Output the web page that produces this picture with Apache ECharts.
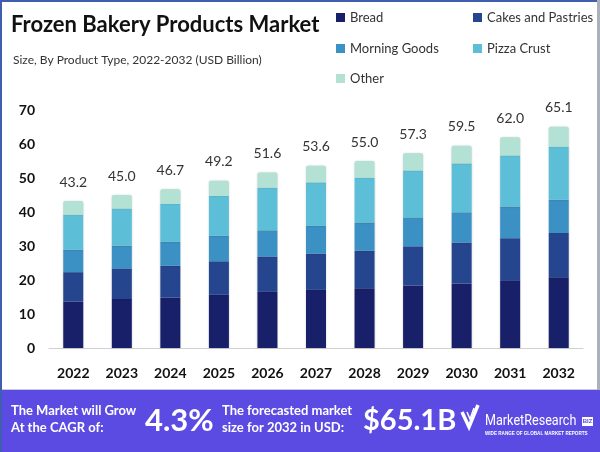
<!DOCTYPE html>
<html>
<head>
<meta charset="utf-8">
<script src="https://cdn.jsdelivr.net/npm/echarts@6/dist/echarts.min.js"></script>
<style>
html,body{margin:0;padding:0;background:#fff;}
#c{width:600px;height:452px;}
</style>
</head>
<body>
<div id="c"></div>
<script>
var years = ['2022','2023','2024','2025','2026','2027','2028','2029','2030','2031','2032'];
var bread = [13.7,14.4,14.8,15.7,16.5,17.1,17.6,18.4,19.0,19.9,20.8];
var cakes = [8.6,9.0,9.4,9.8,10.4,10.6,11.0,11.5,12.0,12.4,13.0];
var morning = [6.6,6.7,7.0,7.5,7.7,8.2,8.3,8.5,8.9,9.3,9.8];
var pizza = [10.3,10.9,11.2,11.7,12.5,12.8,13.2,13.8,14.4,15.0,15.6];
var other = [4.0,4.0,4.3,4.5,4.5,4.9,4.9,5.1,5.2,5.4,5.9];
var totals = [43.2,45.0,46.7,49.2,51.6,53.6,55.0,57.3,59.5,62.0,65.1];
var yTicks = [0,10,20,30,40,50,60,70];
var seriesNames = ['Bread','Cakes and Pastries','Morning Goods','Pizza Crust','Other'];
var colors = ['#18206a','#26458f','#3b90c4','#5dbfd7','#b3e1d3'];

var chart = echarts.init(document.getElementById('c'));
var font = 'Lato, "Noto Sans", sans-serif';
var dataSets = [bread, cakes, morning, pizza, other];
var legendPos = [[336,11],[473,11],[336,42],[473,42],[336,72]];

var series = dataSets.map(function(d, i){
  var s = {
    name: seriesNames[i], type: 'bar', stack: 'total', data: d,
    barWidth: 20,
    itemStyle: {color: colors[i], shadowBlur: 2, shadowColor: 'rgba(0,0,0,0.18)'},
    emphasis: {disabled: true}
  };
  if (i === 4) {
    s.itemStyle.borderRadius = [2,2,0,0];
    s.label = {
      show: true, position: 'top', distance: 12,
      fontFamily: font, fontSize: 14, color: '#333',
      formatter: function(p){ return totals[p.dataIndex].toFixed(1); }
    };
  }
  return s;
});

var legends = seriesNames.map(function(n, i){
  return {
    data: [n], left: legendPos[i][0], top: legendPos[i][1],
    icon: 'rect', itemWidth: 9, itemHeight: 9, padding: 0,
    textStyle: {fontFamily: font, fontSize: 13, color: '#333'},
    selectedMode: false
  };
});

var white = '#ffffff';
chart.setOption({
  animation: false,
  backgroundColor: '#fff',
  color: colors,
  title: [
    {text: 'Frozen Bakery Products Market', left: 6, top: 9,
     textStyle: {fontFamily: font, fontSize: 22, fontWeight: 'bold', color: '#111'}},
    {text: 'Size, By Product Type, 2022-2032 (USD Billion)', left: 8, top: 49,
     textStyle: {fontFamily: font, fontSize: 12, fontWeight: 'normal', color: '#333'}}
  ],
  legend: legends,
  grid: {left: 49, right: 17, top: 110, bottom: 104},
  xAxis: {
    type: 'category', data: years,
    axisLine: {lineStyle: {color: '#d0d0d0'}},
    axisTick: {show: false},
    axisLabel: {fontFamily: font, fontSize: 14, fontWeight: 'bold', color: '#111', margin: 18}
  },
  yAxis: {
    type: 'value', min: 0, max: 70, interval: 10,
    splitLine: {show: false}, axisLine: {show: false}, axisTick: {show: false},
    axisLabel: {fontFamily: font, fontSize: 14, fontWeight: 'bold', color: '#111', margin: 14,
      formatter: function(v){ return yTicks.indexOf(v) >= 0 ? String(v) : ''; }}
  },
  series: series,
  graphic: [
    {type: 'rect', shape: {x: 0, y: 0, width: 600, height: 2}, style: {fill: '#3f5fae'}, z: 100},
    {type: 'rect', shape: {x: 0, y: 0, width: 2, height: 452}, style: {fill: '#3f5fae'}, z: 100},
    {type: 'rect', shape: {x: 597, y: 0, width: 3, height: 390}, style: {fill: '#aab0bc'}, z: 100},
    {type: 'rect', shape: {x: 0, y: 390, width: 600, height: 62}, style: {fill: '#5b4be2'}, z: 90},
    {type: 'rect', shape: {x: 0, y: 389, width: 600, height: 1}, style: {fill: '#c8c8d8'}, z: 90},
    {type: 'text', x: 11, y: 411, z: 95, style: {text: 'The Market will Grow', font: 'bold 13px ' + font, fill: white, verticalAlign: 'middle'}},
    {type: 'text', x: 11, y: 428, z: 95, style: {text: 'At the CAGR of:', font: 'bold 13px ' + font, fill: white, verticalAlign: 'middle'}},
    {type: 'text', x: 145, y: 421, z: 95, style: {text: '4.3%', font: 'bold 31px ' + font, fill: white, verticalAlign: 'middle', shadowBlur: 3, shadowColor: 'rgba(0,0,0,0.35)', shadowOffsetY: 1}},
    {type: 'text', x: 222, y: 411, z: 95, style: {text: 'The forecasted market', font: 'bold 13px ' + font, fill: white, verticalAlign: 'middle'}},
    {type: 'text', x: 222, y: 428, z: 95, style: {text: 'size for 2032 in USD:', font: 'bold 13px ' + font, fill: white, verticalAlign: 'middle'}},
    {type: 'text', x: 363, y: 421, z: 95, style: {text: '$65.1B', font: 'bold 29px ' + font, fill: white, verticalAlign: 'middle', shadowBlur: 3, shadowColor: 'rgba(0,0,0,0.35)', shadowOffsetY: 1}},
    {type: 'polyline', z: 95, shape: {points: [[462,412],[469,427],[478,405]]}, style: {stroke: white, lineWidth: 3.5, fill: null}},
    {type: 'polyline', z: 95, shape: {points: [[467,412],[470,419],[474,408]]}, style: {stroke: white, lineWidth: 1.5, fill: null}},
    {type: 'text', x: 485, y: 421, z: 95, scaleX: 0.84, originX: 0, originY: 0,
     style: {text: 'MarketResearch', font: '15px Roboto, sans-serif', fill: white, verticalAlign: 'middle'}},
    {type: 'rect', z: 95, shape: {x: 582, y: 417, width: 11, height: 9}, style: {fill: white}},
    {type: 'text', x: 587.5, y: 421.5, z: 96, style: {text: 'BIZ', font: 'bold 6px sans-serif', fill: '#5b4be2', align: 'center', verticalAlign: 'middle'}},
    {type: 'text', x: 485, y: 434, z: 95, style: {text: 'WIDE RANGE OF GLOBAL MARKET REPORTS', font: 'bold 4.6px sans-serif', fill: white, verticalAlign: 'middle'}}
  ]
});
</script>
</body>
</html>
